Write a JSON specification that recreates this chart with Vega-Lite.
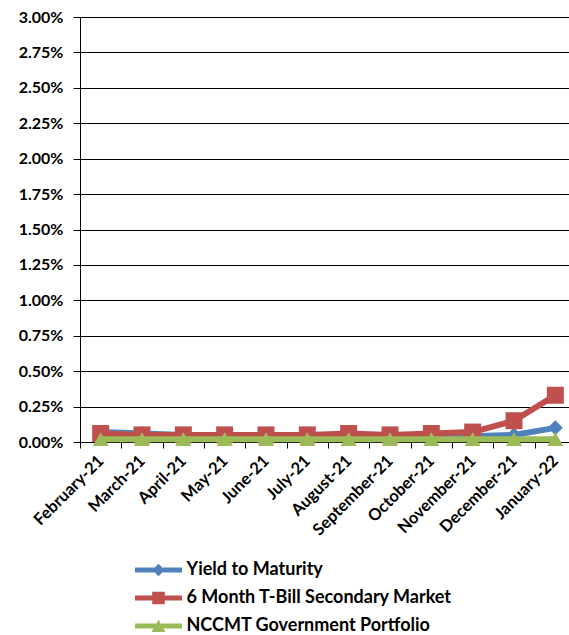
{
  "$schema": "https://vega.github.io/schema/vega-lite/v6.json",
  "width": 489,
  "height": 425,
  "autosize": {"type": "none"},
  "padding": {"left": 80, "top": 17, "right": 0, "bottom": 193},
  "background": "white",
  "config": {"view": {"stroke": null}, "font": "Lato"},
  "data": {"values": [
    {"month": "February-21", "series": "Yield to Maturity", "value": 0.0007},
    {"month": "March-21", "series": "Yield to Maturity", "value": 0.0006},
    {"month": "April-21", "series": "Yield to Maturity", "value": 0.0005},
    {"month": "May-21", "series": "Yield to Maturity", "value": 0.0005},
    {"month": "June-21", "series": "Yield to Maturity", "value": 0.0004},
    {"month": "July-21", "series": "Yield to Maturity", "value": 0.0004},
    {"month": "August-21", "series": "Yield to Maturity", "value": 0.0004},
    {"month": "September-21", "series": "Yield to Maturity", "value": 0.0004},
    {"month": "October-21", "series": "Yield to Maturity", "value": 0.0004},
    {"month": "November-21", "series": "Yield to Maturity", "value": 0.0004},
    {"month": "December-21", "series": "Yield to Maturity", "value": 0.0005},
    {"month": "January-22", "series": "Yield to Maturity", "value": 0.0010},
    {"month": "February-21", "series": "6 Month T-Bill Secondary Market", "value": 0.0006},
    {"month": "March-21", "series": "6 Month T-Bill Secondary Market", "value": 0.0005},
    {"month": "April-21", "series": "6 Month T-Bill Secondary Market", "value": 0.0005},
    {"month": "May-21", "series": "6 Month T-Bill Secondary Market", "value": 0.0005},
    {"month": "June-21", "series": "6 Month T-Bill Secondary Market", "value": 0.0005},
    {"month": "July-21", "series": "6 Month T-Bill Secondary Market", "value": 0.0005},
    {"month": "August-21", "series": "6 Month T-Bill Secondary Market", "value": 0.0006},
    {"month": "September-21", "series": "6 Month T-Bill Secondary Market", "value": 0.0005},
    {"month": "October-21", "series": "6 Month T-Bill Secondary Market", "value": 0.0006},
    {"month": "November-21", "series": "6 Month T-Bill Secondary Market", "value": 0.0007},
    {"month": "December-21", "series": "6 Month T-Bill Secondary Market", "value": 0.0015},
    {"month": "January-22", "series": "6 Month T-Bill Secondary Market", "value": 0.0033},
    {"month": "February-21", "series": "NCCMT Government Portfolio", "value": 0.0002},
    {"month": "March-21", "series": "NCCMT Government Portfolio", "value": 0.0002},
    {"month": "April-21", "series": "NCCMT Government Portfolio", "value": 0.0002},
    {"month": "May-21", "series": "NCCMT Government Portfolio", "value": 0.0002},
    {"month": "June-21", "series": "NCCMT Government Portfolio", "value": 0.0002},
    {"month": "July-21", "series": "NCCMT Government Portfolio", "value": 0.0002},
    {"month": "August-21", "series": "NCCMT Government Portfolio", "value": 0.0002},
    {"month": "September-21", "series": "NCCMT Government Portfolio", "value": 0.0002},
    {"month": "October-21", "series": "NCCMT Government Portfolio", "value": 0.0002},
    {"month": "November-21", "series": "NCCMT Government Portfolio", "value": 0.0002},
    {"month": "December-21", "series": "NCCMT Government Portfolio", "value": 0.0002},
    {"month": "January-22", "series": "NCCMT Government Portfolio", "value": 0.0002}
  ]},
  "encoding": {
    "x": {
      "field": "month", "type": "ordinal", "sort": null,
      "scale": {"type": "band", "range": [0, 496], "paddingInner": 0, "paddingOuter": 0},
      "axis": {
        "title": null, "grid": false, "tickBand": "extent", "tickSize": 6,
        "tickColor": "black", "domainColor": "black", "labelAngle": -45,
        "labelAlign": "right", "labelBaseline": "middle", "labelPadding": 10,
        "labelFont": "Lato", "labelFontSize": 16.5, "labelFontWeight": "bold",
        "labelColor": "black", "labelOverlap": false, "labelLimit": 0
      }
    },
    "y": {
      "field": "value", "type": "quantitative",
      "scale": {"domain": [0, 0.03], "nice": false},
      "axis": {
        "title": null, "format": ".2%",
        "values": [0, 0.0025, 0.005, 0.0075, 0.01, 0.0125, 0.015, 0.0175, 0.02, 0.0225, 0.025, 0.0275, 0.03],
        "grid": true, "gridColor": "black", "gridWidth": 1, "gridOpacity": 1,
        "tickSize": 7, "tickColor": "black", "domainColor": "black",
        "labelPadding": 10, "labelFont": "Lato", "labelFontSize": 16,
        "labelFontWeight": "bold", "labelColor": "black"
      }
    },
    "color": {
      "field": "series", "type": "nominal",
      "scale": {
        "domain": ["Yield to Maturity", "6 Month T-Bill Secondary Market", "NCCMT Government Portfolio"],
        "range": ["#4F81BD", "#C0504D", "#9BBB59"]
      },
      "legend": {
        "title": null, "orient": "none", "legendX": 69.5, "legendY": 544,
        "direction": "vertical", "symbolSize": 196, "labelOffset": 19,
        "rowPadding": 10, "labelFont": "Lato", "labelFontSize": 18,
        "labelFontWeight": "bold", "labelColor": "black", "labelLimit": 0,
        "encode": {
          "symbols": {
            "update": {
              "shape": {"signal": "datum.value === 'Yield to Maturity' ? 'M-3.36,-0.36H3.36V0.36H-3.36Z M-0.9,0L0,-0.9L0.9,0L0,0.9Z' : datum.value === '6 Month T-Bill Secondary Market' ? 'M-3.36,-0.36H3.36V0.36H-3.36Z M-0.9,-0.9H0.9V0.9H-0.9Z' : 'M-3.36,-0.36H3.36V0.36H-3.36Z M-1,0.85L0,-0.9L1,0.85Z'"},
              "fill": {"signal": "scale('color', datum.value)"},
              "stroke": {"value": null},
              "strokeWidth": {"value": 0},
              "opacity": {"value": 1},
              "size": {"value": 196}
            }
          }
        }
      }
    }
  },
  "layer": [
    {
      "transform": [{"filter": "datum.series === 'Yield to Maturity'"}],
      "mark": {"type": "line", "strokeWidth": 6},
      "encoding": {}
    },
    {
      "transform": [{"filter": "datum.series === 'Yield to Maturity'"}],
      "mark": {"type": "point", "filled": true, "opacity": 1, "size": 225, "shape": "diamond"},
      "encoding": {}
    },
    {
      "transform": [{"filter": "datum.series === '6 Month T-Bill Secondary Market'"}],
      "mark": {"type": "line", "strokeWidth": 6},
      "encoding": {}
    },
    {
      "transform": [{"filter": "datum.series === '6 Month T-Bill Secondary Market'"}],
      "mark": {"type": "point", "filled": true, "opacity": 1, "size": 289, "shape": "square"},
      "encoding": {}
    },
    {
      "transform": [{"filter": "datum.series === 'NCCMT Government Portfolio'"}],
      "mark": {"type": "line", "strokeWidth": 6},
      "encoding": {}
    },
    {
      "transform": [{"filter": "datum.series === 'NCCMT Government Portfolio'"}],
      "mark": {"type": "point", "filled": true, "opacity": 1, "size": 256, "shape": "triangle-up"},
      "encoding": {}
    }
  ]
}
